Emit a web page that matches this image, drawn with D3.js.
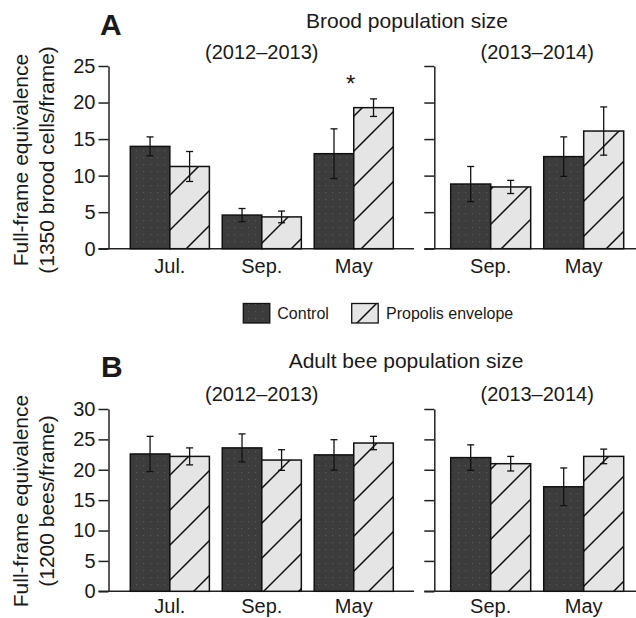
<!DOCTYPE html>
<html><head><meta charset="utf-8">
<script src="https://cdn.jsdelivr.net/npm/d3@7"></script>
<style>
body{margin:0;background:#fff}
svg{display:block}
text{font-family:"Liberation Sans",Arial,Helvetica,sans-serif;fill:#1a1a1a}
</style>
</head><body>
<svg id="c" width="636" height="618"></svg>
<script>
// ---------- data ----------
const seasons1 = ["Jul.", "Sep.", "May"];
const seasons2 = ["Sep.", "May"];
const groups = ["Control", "Propolis envelope"];

const broodCtrl1 = [14.0, 4.6, 13.0];
const broodCtrlErr1 = [1.3, 0.9, 3.4];
const broodProp1 = [11.25, 4.35, 19.3];
const broodPropErr1 = [2.05, 0.8, 1.2];
const broodCtrl2 = [8.85, 12.6];
const broodCtrlErr2 = [2.4, 2.7];
const broodProp2 = [8.45, 16.1];
const broodPropErr2 = [0.9, 3.3];

const adultCtrl1 = [22.6, 23.6, 22.45];
const adultCtrlErr1 = [2.9, 2.3, 2.5];
const adultProp1 = [22.2, 21.6, 24.4];
const adultPropErr1 = [1.4, 1.7, 1.1];
const adultCtrl2 = [22.0, 17.2];
const adultCtrlErr2 = [2.1, 3.1];
const adultProp2 = [21.0, 22.2];
const adultPropErr2 = [1.2, 1.2];

const broodTicks = [0, 5, 10, 15, 20, 25];
const adultTicks = [0, 5, 10, 15, 20, 25, 30];
const periods = ["(2012\u20132013)", "(2013\u20132014)"];
const significant = [{panel: "brood", period: 0, cat: "May"}];

// ---------- drawing ----------
const svg = d3.select("#c");
const defs = svg.append("defs");
const hatch = defs.append("pattern").attr("id", "hatch")
  .attr("patternUnits", "userSpaceOnUse").attr("width", 35).attr("height", 35);
hatch.append("rect").attr("width", 35).attr("height", 35).attr("fill", "#e4e5e4");
hatch.append("path").attr("d", "M-5,20L20,-5M10,40L40,10")
  .attr("stroke", "#111").attr("stroke-width", 1.5).attr("fill", "none");
const dots = defs.append("pattern").attr("id", "dots")
  .attr("patternUnits", "userSpaceOnUse").attr("width", 7).attr("height", 7);
dots.append("rect").attr("width", 7).attr("height", 7).attr("fill", "#3c3c3c");
dots.append("rect").attr("x", 3).attr("y", 3).attr("width", 1.2).attr("height", 1.2).attr("fill", "#575757");
const fills = ["url(#dots)", "url(#hatch)"];
const AX = "#222";

function drawPanel(o) {
  const g = svg.append("g");
  const x = d3.scaleBand().domain(o.cats).range(o.xRange).paddingInner(0.14).paddingOuter(0);
  const xs = d3.scaleBand().domain(groups).range([0, x.bandwidth()]);
  const y = o.y;
  // axis
  const ax = d3.axisLeft(y).tickValues(o.ticks).tickSize(10).tickSizeOuter(0).tickPadding(3);
  if (!o.labels) ax.tickFormat("");
  const ag = g.append("g").attr("transform", `translate(${o.axisX},0)`).call(ax);
  ag.select(".domain").attr("stroke", AX).attr("stroke-width", 1.5);
  ag.selectAll(".tick line").attr("stroke", AX).attr("stroke-width", 1.5);
  ag.selectAll(".tick text").attr("font-size", 20).attr("font-family", '"Liberation Sans",Arial,sans-serif').attr("fill", "#1a1a1a");
  // baseline
  g.append("line").attr("x1", o.axisX - 10).attr("x2", o.baseEnd)
    .attr("y1", y(0)).attr("y2", y(0)).attr("stroke", AX).attr("stroke-width", 1.5);
  // bars
  const rows = [];
  o.cats.forEach((c, i) => {
    rows.push({cat: c, grp: 0, v: o.ctrl[i], e: o.ctrlErr[i]});
    rows.push({cat: c, grp: 1, v: o.prop[i], e: o.propErr[i]});
  });
  g.selectAll("rect.bar").data(rows).join("rect").attr("class", "bar")
    .attr("x", d => x(d.cat) + xs(groups[d.grp]))
    .attr("width", xs.bandwidth())
    .attr("y", d => y(d.v))
    .attr("height", d => y(0) - y(d.v))
    .attr("fill", d => fills[d.grp])
    .attr("stroke", "#111").attr("stroke-width", 1.5);
  // error bars
  const eb = g.selectAll("g.err").data(rows).join("g").attr("class", "err")
    .attr("transform", d => `translate(${x(d.cat) + xs(groups[d.grp]) + xs.bandwidth() / 2},0)`);
  eb.append("line").attr("y1", d => y(d.v - d.e)).attr("y2", d => y(d.v + d.e))
    .attr("stroke", "#111").attr("stroke-width", 1.3);
  eb.append("line").attr("x1", -3.5).attr("x2", 3.5).attr("y1", d => y(d.v + d.e)).attr("y2", d => y(d.v + d.e))
    .attr("stroke", "#111").attr("stroke-width", 1.3);
  eb.append("line").attr("x1", -3.5).attr("x2", 3.5).attr("y1", d => y(d.v - d.e)).attr("y2", d => y(d.v - d.e))
    .attr("stroke", "#111").attr("stroke-width", 1.3);
  // category labels
  g.selectAll("text.cat").data(o.cats).join("text").attr("class", "cat")
    .attr("x", d => x(d) + x.bandwidth() / 2).attr("y", y(0) + o.catDy)
    .attr("text-anchor", "middle").attr("font-size", 20).text(d => d);
  // subtitle
  g.append("text").attr("x", (o.xRange[0] + o.xRange[1]) / 2).attr("y", o.subY)
    .attr("text-anchor", "middle").attr("font-size", 20).text(o.subtitle);
  // significance
  significant.filter(s => s.panel === o.panel && s.period === o.period).forEach(s => {
    g.append("text").attr("x", x(s.cat) + x.bandwidth() / 2 - 3).attr("y", o.starY)
      .attr("text-anchor", "middle").attr("font-size", 24).text("*");
  });
}

function yLabel(cy, lines) {
  lines.forEach((t, i) => {
    svg.append("text").attr("transform", `translate(${28 + i * 26},${cy}) rotate(-90)`)
      .attr("text-anchor", "middle").attr("font-size", 21).text(t);
  });
}

// Panel A
const yBrood = d3.scaleLinear().domain([0, 25]).range([248.7, 66]);
drawPanel({panel: "brood", period: 0, cats: seasons1, ctrl: broodCtrl1, ctrlErr: broodCtrlErr1, prop: broodProp1, propErr: broodPropErr1,
  y: yBrood, ticks: broodTicks, labels: true, xRange: [130.3, 393.3], axisX: 108.5, baseEnd: 414,
  catDy: 24, subtitle: periods[0], subY: 59, starY: 92});
drawPanel({panel: "brood", period: 1, cats: seasons2, ctrl: broodCtrl2, ctrlErr: broodCtrlErr2, prop: broodProp2, propErr: broodPropErr2,
  y: yBrood, ticks: broodTicks, labels: false, xRange: [450.7, 623.7], axisX: 434.3, baseEnd: 636,
  catDy: 24, subtitle: periods[1], subY: 59});
svg.append("text").attr("x", 100).attr("y", 35).attr("font-size", 30).attr("font-weight", "bold").text("A");
svg.append("text").attr("x", 407).attr("y", 27.5).attr("text-anchor", "middle").attr("font-size", 21).text("Brood population size");
yLabel(160, ["Full-frame equivalence", "(1350 brood cells/frame)"]);

// Legend
const leg = svg.append("g");
const legX = [243.3, 351.7], legTX = [277.3, 386];
groups.forEach((gname, i) => {
  leg.append("rect").attr("x", legX[i]).attr("y", 303.5).attr("width", 26.5).attr("height", 19.5)
    .attr("fill", fills[i]).attr("stroke", "#111").attr("stroke-width", 1.3);
  leg.append("text").attr("x", legTX[i]).attr("y", 318.5).attr("font-size", 16).text(gname);
});

// Panel B
const yAdult = d3.scaleLinear().domain([0, 30]).range([591.3, 409]);
drawPanel({panel: "adult", period: 0, cats: seasons1, ctrl: adultCtrl1, ctrlErr: adultCtrlErr1, prop: adultProp1, propErr: adultPropErr1,
  y: yAdult, ticks: adultTicks, labels: true, xRange: [130.3, 393.3], axisX: 108.5, baseEnd: 414,
  catDy: 22, subtitle: periods[0], subY: 401});
drawPanel({panel: "adult", period: 1, cats: seasons2, ctrl: adultCtrl2, ctrlErr: adultCtrlErr2, prop: adultProp2, propErr: adultPropErr2,
  y: yAdult, ticks: adultTicks, labels: false, xRange: [450.7, 623.7], axisX: 434.3, baseEnd: 636,
  catDy: 22, subtitle: periods[1], subY: 401});
svg.append("text").attr("x", 101).attr("y", 377).attr("font-size", 30).attr("font-weight", "bold").text("B");
svg.append("text").attr("x", 406).attr("y", 368).attr("text-anchor", "middle").attr("font-size", 21).text("Adult bee population size");
yLabel(501, ["Full-frame equivalence", "(1200 bees/frame)"]);
</script>
</body></html>
